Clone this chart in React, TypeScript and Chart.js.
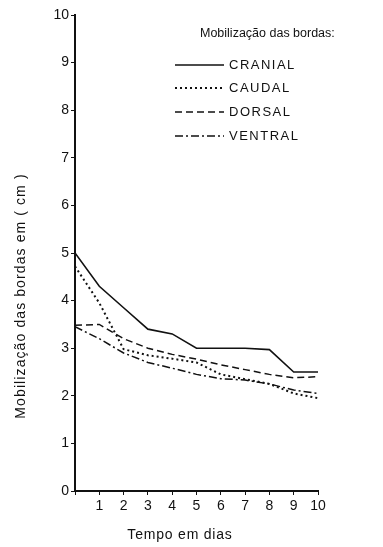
import React, { useEffect, useRef } from "react";
import { Chart, registerables } from "chart.js";

Chart.register(...registerables);

const days = [0, 1, 2, 3, 4, 5, 6, 7, 8, 9, 10];
const cranial = [5.0, 4.3, 3.85, 3.4, 3.3, 3.0, 3.0, 3.0, 2.97, 2.5, 2.5];
const caudal = [4.72, 3.95, 2.98, 2.85, 2.78, 2.7, 2.45, 2.35, 2.25, 2.05, 1.95];
const dorsal = [3.48, 3.5, 3.2, 3.0, 2.87, 2.77, 2.65, 2.55, 2.45, 2.38, 2.4];
const ventral = [3.45, 3.2, 2.9, 2.7, 2.58, 2.45, 2.36, 2.33, 2.25, 2.12, 2.05];

const seriesNames = ["CRANIAL", "CAUDAL", "DORSAL", "VENTRAL"];
const legendTitle = "Mobilização das bordas:";
const xTitle = "Tempo em dias";
const yTitle = "Mobilização das bordas em ( cm )";

const FONT = "'Liberation Sans', Arial, sans-serif";

export default function App() {
  const ref = useRef<HTMLCanvasElement>(null);
  useEffect(() => {
    if (!ref.current) return;
    const mk = (vals: number[]) => days.map((d, i) => ({ x: d, y: vals[i] }));
    const dashes = [[], [2, 3], [7, 4], [8, 3, 2, 3]];
    const widths = [1.6, 2, 1.5, 1.5];
    const allVals = [cranial, caudal, dorsal, ventral];
    const datasets = allVals.map((v, i) => ({
      label: seriesNames[i],
      data: mk(v),
      borderColor: "#111",
      borderWidth: widths[i],
      borderDash: dashes[i],
      pointRadius: 0,
      fill: false,
      tension: 0,
    }));

    const decor = {
      id: "decor",
      afterDraw(chart: any) {
        const ctx = chart.ctx;
        ctx.save();
        ctx.fillStyle = "#111";
        ctx.strokeStyle = "#111";
        // legend
        ctx.font = `12.5px ${FONT}`;
        ctx.textBaseline = "middle";
        ctx.textAlign = "left";
        ctx.fillText(legendTitle, 200, 34);
        const rows = [65, 88, 112, 136];
        rows.forEach((y, i) => {
          ctx.beginPath();
          ctx.lineWidth = widths[i];
          ctx.setLineDash(dashes[i]);
          ctx.moveTo(175, y);
          ctx.lineTo(224, y);
          ctx.stroke();
          ctx.setLineDash([]);
          ctx.font = `13px ${FONT}`;
          (ctx as any).letterSpacing = "1.5px";
          ctx.fillText(seriesNames[i], 229, y);
          (ctx as any).letterSpacing = "0px";
        });
        // x title
        ctx.font = `14px ${FONT}`;
        (ctx as any).letterSpacing = "0.8px";
        ctx.textAlign = "center";
        ctx.fillText(xTitle, 180, 535);
        // y title
        (ctx as any).letterSpacing = "1.1px";
        ctx.translate(21, 296);
        ctx.rotate(-Math.PI / 2);
        ctx.fillText(yTitle, 0, 0);
        ctx.restore();
      },
    };

    const chart = new Chart(ref.current, {
      type: "line",
      data: { datasets: datasets as any },
      options: {
        animation: false,
        responsive: false,
        maintainAspectRatio: false,
        layout: { padding: { left: 0, top: 15, right: 65, bottom: 0 } },
        plugins: { legend: { display: false }, tooltip: { enabled: false } },
        scales: {
          x: {
            type: "linear",
            min: 0,
            max: 10,
            afterFit: (s: any) => {
              s.height = 56;
            },
            ticks: {
              stepSize: 1,
              color: "#111",
              font: { family: FONT, size: 14 },
              padding: 3,
              maxRotation: 0,
              callback: (v: any) => (v === 0 ? "" : String(v)),
            },
            grid: { drawOnChartArea: false, drawTicks: true, tickLength: 4, color: "#111" },
            border: { display: true, color: "#111", width: 2 },
          },
          y: {
            type: "linear",
            min: 0,
            max: 10,
            afterFit: (s: any) => {
              s.width = 75;
            },
            ticks: {
              stepSize: 1,
              color: "#111",
              font: { family: FONT, size: 14 },
              padding: 2,
            },
            grid: { drawOnChartArea: false, drawTicks: true, tickLength: 4, color: "#111" },
            border: { display: true, color: "#111", width: 2 },
          },
        },
      },
      plugins: [decor],
    });
    return () => chart.destroy();
  }, []);
  return (
    <div style={{ position: "fixed", left: 0, top: 0, width: 383, height: 547, background: "#fff" }}>
      <canvas ref={ref} width={383} height={547} style={{ width: 383, height: 547 }} />
    </div>
  );
}
